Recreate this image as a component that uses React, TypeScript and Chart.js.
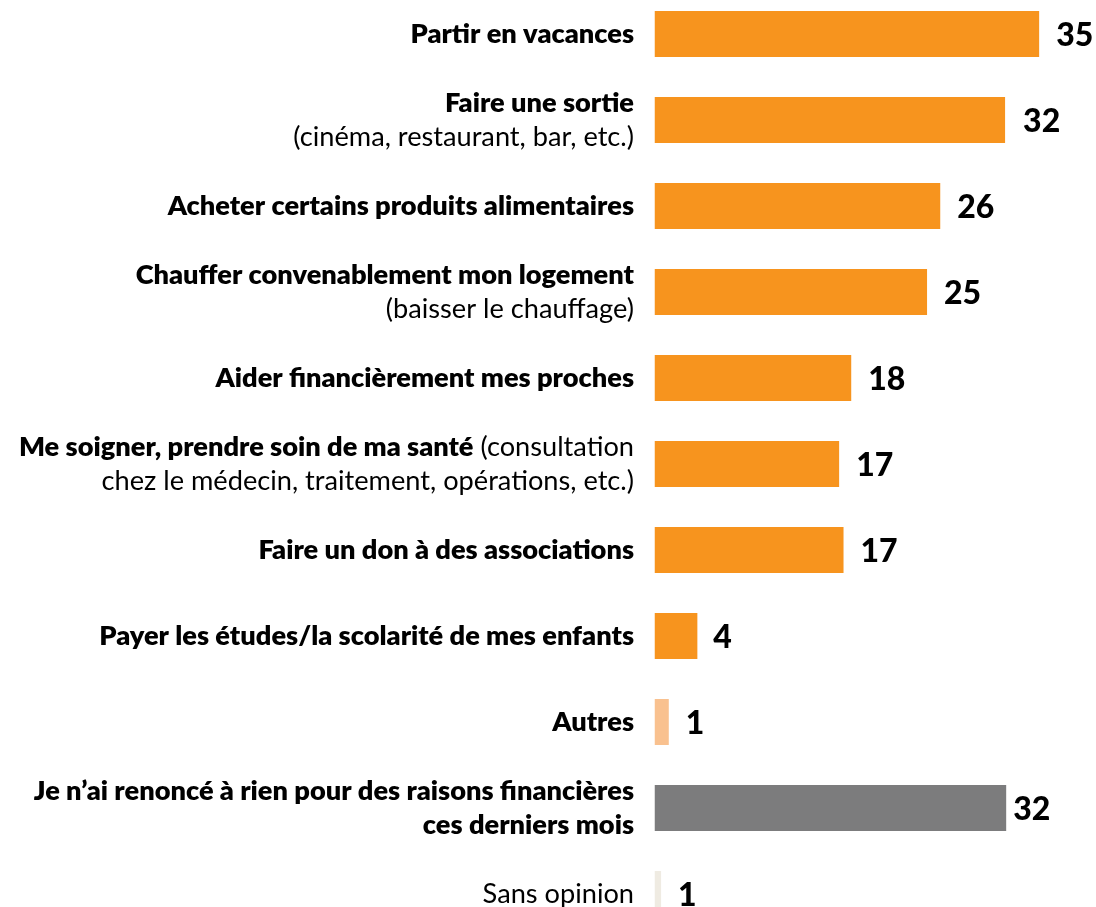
import React, { useEffect, useRef } from "react";
import { Chart, registerables } from "chart.js";

Chart.register(...registerables);

// Category labels: each entry is a list of lines; **text** marks bold runs
const categoryLines: string[][] = [
  ["**Partir en vacances**"],
  ["**Faire une sortie**", "(cinéma, restaurant, bar, etc.)"],
  ["**Acheter certains produits alimentaires**"],
  ["**Chauffer convenablement mon logement**", "(baisser le chauffage)"],
  ["**Aider financièrement mes proches**"],
  ["**Me soigner, prendre soin de ma santé** (consultation", "chez le médecin, traitement, opérations, etc.)"],
  ["**Faire un don à des associations**"],
  ["**Payer les études/la scolarité de mes enfants**"],
  ["**Autres**"],
  ["**Je n’ai renoncé à rien pour des raisons financières**", "**ces derniers mois**"],
  ["Sans opinion"],
];

// Bar values (as drawn) and the displayed rounded labels
const values: number[] = [35, 31.9, 26, 24.8, 17.9, 16.8, 17.2, 3.9, 1.3, 32, 0.6];
const valueLabels: string[] = ["35", "32", "26", "25", "18", "17", "17", "4", "1", "32", "1"];

const barColors: string[] = [
  "#F7941E", "#F7941E", "#F7941E", "#F7941E", "#F7941E", "#F7941E", "#F7941E", "#F7941E",
  "#F9C18F", "#7C7C7D", "#EFEBE2",
];
const valueLabelGaps: number[] = [17, 18, 17, 17, 17, 17, 17, 16, 17, 7, 17];

const FONT_FAMILY = "Lato, 'Open Sans', sans-serif";
const LABEL_SIZE = 27.2;
const LINE_HEIGHT = 34;
const VALUE_SIZE = 32;
const LABEL_RIGHT = 634;

function parseRuns(line: string): { text: string; bold: boolean }[] {
  const parts = line.split("**");
  const runs: { text: string; bold: boolean }[] = [];
  parts.forEach((p, i) => {
    if (p.length) runs.push({ text: p, bold: i % 2 === 1 });
  });
  return runs;
}

const labelPlugin = {
  id: "customLabels",
  afterDatasetsDraw(chart: any) {
    const ctx = chart.ctx as CanvasRenderingContext2D;
    const yScale = chart.scales.y;
    const meta = chart.getDatasetMeta(0);
    ctx.save();
    ctx.textBaseline = "middle";
    ctx.fillStyle = "#000000";
    categoryLines.forEach((lines, i) => {
      const cy = yScale.getPixelForValue(i);
      const n = lines.length;
      lines.forEach((line, li) => {
        const y = cy + (li - (n - 1) / 2) * LINE_HEIGHT;
        const runs = parseRuns(line);
        const widths = runs.map((r) => {
          ctx.font = `${r.bold ? "800 " : ""}${LABEL_SIZE}px ${FONT_FAMILY}`;
          return ctx.measureText(r.text).width;
        });
        const total = widths.reduce((a, b) => a + b, 0);
        let x = LABEL_RIGHT - total;
        ctx.textAlign = "left";
        runs.forEach((r, ri) => {
          ctx.font = `${r.bold ? "800 " : ""}${LABEL_SIZE}px ${FONT_FAMILY}`;
          ctx.fillText(r.text, x, y);
          x += widths[ri];
        });
      });
      // value label
      const bar = meta.data[i];
      ctx.font = `900 ${VALUE_SIZE}px ${FONT_FAMILY}`;
      ctx.textAlign = "left";
      ctx.fillText(valueLabels[i], bar.x + valueLabelGaps[i], cy + 2);
    });
    ctx.restore();
  },
};

export default function App() {
  const canvasRef = useRef<HTMLCanvasElement | null>(null);

  useEffect(() => {
    if (!canvasRef.current) return;
    const chart = new Chart(canvasRef.current, {
      type: "bar",
      data: {
        labels: categoryLines.map((l) => l.join(" ").split("**").join("")),
        datasets: [
          {
            data: values,
            backgroundColor: barColors,
            borderWidth: 0,
            barPercentage: 1,
            categoryPercentage: 46 / 86,
          },
        ],
      },
      options: {
        indexAxis: "y",
        responsive: false,
        maintainAspectRatio: false,
        animation: false,
        devicePixelRatio: 1,
        layout: { padding: { left: 654.5, right: 1.9, top: 0, bottom: 0 } },
        scales: {
          x: { display: false, min: 0, max: 40 },
          y: { display: false },
        },
        plugins: {
          legend: { display: false },
          tooltip: { enabled: false },
        },
      },
      plugins: [labelPlugin],
    });
    return () => chart.destroy();
  }, []);

  return (
    <div
      style={{
        position: "absolute",
        left: 0,
        top: 0,
        width: 1096,
        height: 907,
        overflow: "hidden",
        background: "#ffffff",
      }}
    >
      <div style={{ position: "absolute", left: 0, top: -9, width: 1096, height: 946 }}>
        <canvas ref={canvasRef} width={1096} height={946} style={{ width: 1096, height: 946 }} />
      </div>
    </div>
  );
}
